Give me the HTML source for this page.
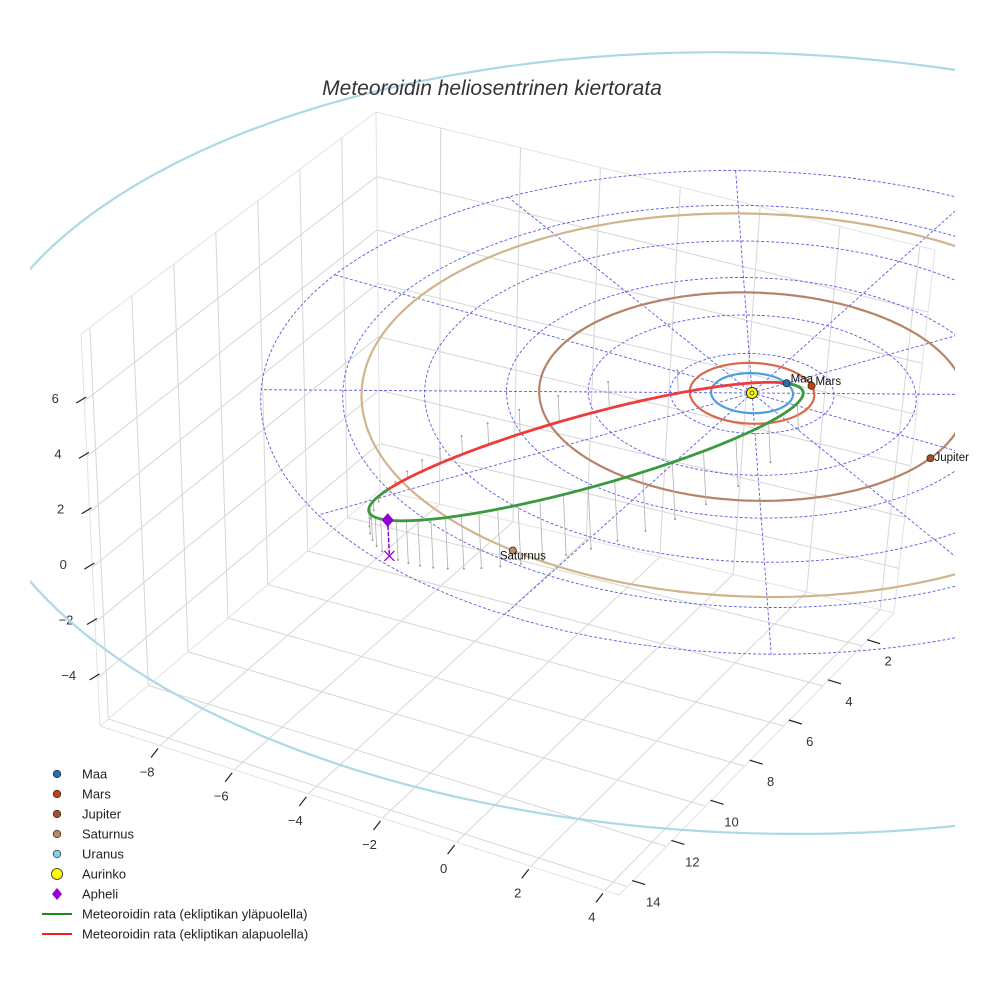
<!DOCTYPE html>
<html><head><meta charset="utf-8">
<style>
html,body{margin:0;padding:0;background:#fff;}
svg{display:block;font-family:"Liberation Sans",sans-serif;}
</style></head>
<body>
<svg id="chart" width="984" height="984" viewBox="0 0 984 984" xmlns="http://www.w3.org/2000/svg">
<defs><clipPath id="clip"><rect x="30" y="0" width="925" height="984"/></clipPath></defs>
<g id="box"></g>
<g id="ticks"></g>
<g id="plot" clip-path="url(#clip)"></g>
<g id="labels"></g>
<text x="492" y="95" text-anchor="middle" font-size="21" font-style="italic" fill="#333">Meteoroidin heliosentrinen kiertorata</text>
<g id="legend"></g>
</svg>
<script>
// ---- data ----
const planetNames = ["Maa","Mars","Jupiter","Saturnus","Uranus"];
const planetOrbitRadius = [1.0, 1.52, 5.2, 9.54, 19.2];
const planetAngleDeg = [-60, -44.5, 7, 97.6, 0];
const planetOrbitColors = ["#4a9fdc","#d9694a","#b5836a","#d2b48c","#add8e6"];
const planetMarkerColors = ["#1f6fb4","#c1440e","#a0522d","#b88a66","#87ceeb"];
const gridRadii = [2,4,6,8,10,12];
const gridAnglesDeg = [0,30,60,90,120,150,180,210,240,270,300,330];
const meteorA = [6.38];
const meteorE = [0.843];
const meteorInclDeg = [24];
const meteorNodeDeg = [14.7];
const meteorPeriAngleDeg = [-73.3];
const xTicks = [-8,-6,-4,-2,0,2,4];
const yTicks = [2,4,6,8,10,12,14];
const zTicks = [-4,-2,0,2,4,6];
const xRange = [-9.62, 4.38];
const yRange = [14.42, 0.37];
const zRange = [-5.74, 8.42];

// ---- projection ----
const sun=[752,393], ex=[36.2,10.25], ey=[-19.2,17.2], ez=[-1.3,-28], K=3000;
function P(x,y,z){const ax=x*ex[0]+y*ey[0], ay=x*ex[1]+y*ey[1];const s=1/(1-ay/K);return [sun[0]+s*(ax+z*ez[0]), sun[1]+s*(ay+z*ez[1])];}
const NS="http://www.w3.org/2000/svg";
function mk(tag,attrs,parent){const e=document.createElementNS(NS,tag);for(const k in attrs)e.setAttribute(k,attrs[k]);parent.appendChild(e);return e;}
function pts(a){return a.map(p=>p[0].toFixed(1)+","+p[1].toFixed(1)).join(" ");}
const box=document.getElementById('box'), plot=document.getElementById('plot'), ticks=document.getElementById('ticks'), legend=document.getElementById('legend'), labels=document.getElementById('labels');

// ---- box (bilinear faces) ----
const FL=[100,726],FR=[619,895],BR=[894,613],BL=[380,490],BLt=[376,112],FLt=[81,334],BRt=[935,250];
function lerp(a,b,t){return [a[0]+(b[0]-a[0])*t,a[1]+(b[1]-a[1])*t];}
function bil(p00,p10,p01,p11,u,v){return lerp(lerp(p00,p10,u),lerp(p01,p11,u),v);}
function gl(a,b,c){const l=mk('line',{x1:a[0],y1:a[1],x2:b[0],y2:b[1],stroke:c||'#d6d6d6','stroke-width':1},box);}
const tx=v=>(v-xRange[0])/(xRange[1]-xRange[0]);
const ty=v=>(v-yRange[0])/(yRange[1]-yRange[0]);
const tz=v=>(v-zRange[0])/(zRange[1]-zRange[0]);
xTicks.forEach(t=>{const u=tx(t);gl(bil(FL,FR,BL,BR,u,0),bil(FL,FR,BL,BR,u,1));gl(lerp(BL,BR,u),bil(BL,BR,BLt,BRt,u,1));});
yTicks.forEach(t=>{const v=ty(t);gl(bil(FL,FR,BL,BR,0,v),bil(FL,FR,BL,BR,1,v));gl(lerp(FL,BL,v),bil(FL,BL,FLt,BLt,v,1));});
zTicks.forEach(t=>{const w=tz(t);gl(lerp(FL,FLt,w),lerp(BL,BLt,w));gl(lerp(BL,BLt,w),lerp(BR,BRt,w));});
[[FL,FR],[FR,BR],[FL,BL],[BL,BR],[FL,FLt],[BL,BLt],[BR,BRt],[FLt,BLt],[BLt,BRt]].forEach(e=>gl(e[0],e[1],'#e2e2e2'));

// ---- ticks ----
function tl(a,b){const l=mk('line',{x1:a[0],y1:a[1],x2:b[0],y2:b[1],stroke:'#222','stroke-width':1.2},ticks);}
function tt(x,y,s,name){const t=mk('text',{x:x,y:y,'font-size':13,fill:'#333','text-anchor':'middle'},ticks);t.textContent=s;}
const fmt=v=>v<0?'\u2212'+(-v):String(v);
xTicks.forEach(t=>{const p=lerp(FL,FR,tx(t));tl([p[0]-9,p[1]+12],[p[0]-2,p[1]+3]);tt(p[0]-13,p[1]+31,fmt(t),'x-tick-label');});
yTicks.forEach(t=>{const p=lerp(FR,BR,(yRange[0]-t)/(yRange[0]-yRange[1]));tl([p[0]+5,p[1]-6],[p[0]+18,p[1]-2]);tt(p[0]+26,p[1]+20,fmt(t),'y-tick-label');});
zTicks.forEach(t=>{const p=lerp(FL,FLt,tz(t));tl([p[0]-8,p[1]+2],[p[0]+2,p[1]-4]);tt(p[0]-29,p[1]+2,fmt(t),'z-tick-label');});

// ---- polar grid ----
gridRadii.forEach(r=>{const a=[];for(let k=0;k<=180;k++){const th=k/180*2*Math.PI;a.push(P(r*Math.cos(th),r*Math.sin(th),0));}
 const e=mk('polyline',{points:pts(a),fill:'none',stroke:'#5a5ae0','stroke-width':0.9,'stroke-dasharray':'3,2'},plot);});
gridAnglesDeg.forEach(d=>{const th=d*Math.PI/180;const a=P(0,0,0),b=P(12*Math.cos(th),12*Math.sin(th),0);
 const e=mk('line',{x1:a[0],y1:a[1],x2:b[0],y2:b[1],stroke:'#5a5ae0','stroke-width':0.9,'stroke-dasharray':'3,2'},plot);});

// ---- planet orbits ----
planetOrbitRadius.forEach((r,i)=>{const a=[];for(let k=0;k<=360;k++){const th=k/360*2*Math.PI;a.push(P(r*Math.cos(th),r*Math.sin(th),0));}
 const e=mk('polyline',{points:pts(a),fill:'none',stroke:planetOrbitColors[i],'stroke-width':2.2},plot);});

// ---- meteoroid orbit ----
const D=Math.PI/180, A=meteorA[0], E=meteorE[0], inc=meteorInclDeg[0]*D, nu0=meteorNodeDeg[0]*D, pa=meteorPeriAngleDeg[0]*D;
const U=[Math.cos(pa),Math.sin(pa)];
const Wv=[-U[1],U[0]]; const Wp=(Wv[0]*ex[1]+Wv[1]*ey[1])>0?Wv:[U[1],-U[0]];
const Nn=[Math.cos(nu0)*U[0]+Math.sin(nu0)*Wp[0],Math.cos(nu0)*U[1]+Math.sin(nu0)*Wp[1]];
const Mm=[-Math.sin(nu0)*U[0]+Math.cos(nu0)*Wp[0],-Math.sin(nu0)*U[1]+Math.cos(nu0)*Wp[1]];
function orb(nu){const r=A*(1-E*E)/(1+E*Math.cos(nu));const c=Math.cos(nu-nu0),s=Math.sin(nu-nu0);
 return [r*(c*Nn[0]+s*Math.cos(inc)*Mm[0]), r*(c*Nn[1]+s*Math.cos(inc)*Mm[1]), r*s*Math.sin(inc)];}
for(let k=0;k<40;k++){const M=k/40*2*Math.PI;let Ea=M;for(let j=0;j<30;j++)Ea=Ea-(Ea-E*Math.sin(Ea)-M)/(1-E*Math.cos(Ea));
 const nu=2*Math.atan2(Math.sqrt(1+E)*Math.sin(Ea/2),Math.sqrt(1-E)*Math.cos(Ea/2));const q=orb(nu);const a=P(q[0],q[1],q[2]),b=P(q[0],q[1],0);
 const l=mk('line',{x1:a[0],y1:a[1],x2:b[0],y2:b[1],stroke:'#b0b0b0','stroke-width':0.8},plot);
 const c=mk('circle',{cx:b[0],cy:b[1],r:1,fill:'#999'},plot);}
let seg=[],segUp=null;const segs=[];
for(let k=0;k<=720;k++){const q=orb(k/720*2*Math.PI);const up=q[2]>=0;const p=P(q[0],q[1],q[2]);
 if(segUp===null)segUp=up;if(up!==segUp){seg.push(p);segs.push([segUp,seg]);seg=[p];segUp=up;}else seg.push(p);}
segs.push([segUp,seg]);
segs.forEach(s=>{const e=mk('polyline',{points:pts(s[1]),fill:'none',stroke:s[0]?'#3a9a3f':'#ee3b3b','stroke-width':2.8,'stroke-linecap':'round'},plot);
 });
const aq=orb(Math.PI),ap=P(aq[0],aq[1],aq[2]),ag=P(aq[0],aq[1],0);
let e=mk('line',{x1:ap[0],y1:ap[1],x2:ag[0],y2:ag[1],stroke:'#9400d3','stroke-width':1.5,'stroke-dasharray':'4,2'},plot);
e=mk('path',{d:`M${ag[0]-5},${ag[1]-5}L${ag[0]+5},${ag[1]+5}M${ag[0]-5},${ag[1]+5}L${ag[0]+5},${ag[1]-5}`,stroke:'#9400d3','stroke-width':1.3},plot);
e=mk('path',{d:`M${ap[0]},${ap[1]-7}L${ap[0]+6},${ap[1]}L${ap[0]},${ap[1]+7}L${ap[0]-6},${ap[1]}Z`,fill:'#9400d3'},plot);

// ---- planets ----
planetNames.forEach((n,i)=>{const th=planetAngleDeg[i]*D,r=planetOrbitRadius[i];const p=P(r*Math.cos(th),r*Math.sin(th),0);
 const c=mk('circle',{cx:p[0],cy:p[1],r:3.6,fill:planetMarkerColors[i],stroke:'#222','stroke-width':0.7},plot);
 if(p[0]<984&&p[0]>0&&p[1]>0&&p[1]<984){const t=mk('text',{x:p[0]+(i===3?-13:4),y:p[1]+(i===3?9:-1)+(i===2?4:0),'font-size':11.5,fill:'#111'},labels);t.textContent=n;}});
e=mk('circle',{cx:sun[0],cy:sun[1],r:5.5,fill:'#ffff00',stroke:'#222','stroke-width':0.9},plot);
e=mk('circle',{cx:sun[0],cy:sun[1],r:2,fill:'none',stroke:'#335','stroke-width':0.8},plot);

// ---- legend ----
const legLabels=["Maa","Mars","Jupiter","Saturnus","Uranus","Aurinko","Apheli","Meteoroidin rata (ekliptikan yläpuolella)","Meteoroidin rata (ekliptikan alapuolella)"];
const legColors=["#1f6fb4","#c1440e","#a0522d","#b88a66","#87ceeb","#ffff00","#9400d3","#1a8a1a","#ee2020"];
legLabels.forEach((s,i)=>{const y=774+i*20;let m;
 if(i<5)m=mk('circle',{cx:57,cy:y,r:3.8,fill:legColors[i],stroke:'#222','stroke-width':0.7},legend);
 else if(i===5)m=mk('circle',{cx:57,cy:y,r:5.5,fill:legColors[i],stroke:'#222','stroke-width':0.8},legend);
 else if(i===6)m=mk('path',{d:`M57,${y-6}L62,${y}L57,${y+6}L52,${y}Z`,fill:legColors[i]},legend);
 else m=mk('line',{x1:42,y1:y,x2:72,y2:y,stroke:legColors[i],'stroke-width':2},legend);
 
 const t=mk('text',{x:82,y:y+4.5,'font-size':13,fill:'#222'},legend);t.textContent=s;});
</script>
</body></html>
